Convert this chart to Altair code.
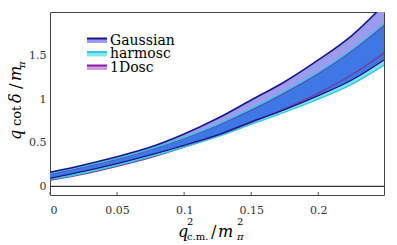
import altair as alt
import pandas as pd

# ---- data ----
x_vals = [0, 0.025, 0.05, 0.075, 0.1, 0.125, 0.15, 0.175, 0.2, 0.225, 0.25]
gauss_lo = [0.09, 0.17, 0.26, 0.36, 0.47, 0.59, 0.74, 0.88, 1.04, 1.22, 1.46]
gauss_hi = [0.16, 0.245, 0.34, 0.45, 0.60, 0.78, 0.99, 1.20, 1.45, 1.73, 2.10]
harm_lo = [0.08, 0.15, 0.24, 0.34, 0.45, 0.57, 0.71, 0.85, 1.00, 1.17, 1.40]
harm_hi = [0.15, 0.23, 0.32, 0.43, 0.56, 0.71, 0.89, 1.09, 1.31, 1.57, 1.88]
osc_lo = [0.07, 0.14, 0.23, 0.33, 0.45, 0.58, 0.73, 0.89, 1.07, 1.28, 1.54]
osc_hi = [0.14, 0.22, 0.31, 0.42, 0.55, 0.70, 0.87, 1.07, 1.29, 1.55, 1.85]

series_names = ["Gaussian", "harmosc", "1Dosc"]
x_ticks = [0, 0.05, 0.1, 0.15, 0.2]
y_ticks = [0, 0.5, 1, 1.5]

df = pd.DataFrame({
    "x": x_vals,
    "gauss_lo": gauss_lo, "gauss_hi": gauss_hi,
    "harm_lo": harm_lo, "harm_hi": harm_hi,
    "osc_lo": osc_lo, "osc_hi": osc_hi,
})
df["ov_lo"] = df[["gauss_lo", "harm_lo"]].max(axis=1)
df["ov_hi"] = df[["gauss_hi", "harm_hi"]].min(axis=1)

tick_df = pd.DataFrame({"x": x_ticks})
one = pd.DataFrame({"k": [0]})

FONT = "DejaVu Serif"
W, H = 334, 183

xscale = alt.Scale(domain=[0, 0.249], nice=False, zero=False)
yscale = alt.Scale(domain=[-0.1, 2.0], nice=False, zero=False)
xaxis = alt.Axis(values=x_ticks, format="~g", title=None, ticks=False, domain=False,
                 grid=False, labelPadding=9, labelFont=FONT, labelFontSize=11,
                 labelColor="#333")
yaxis = alt.Axis(values=y_ticks, format="~g", title=None, ticks=False, domain=False,
                 grid=False, labelPadding=4, labelFont=FONT, labelFontSize=11,
                 labelColor="#333")


def X(field="x"):
    return alt.X(f"{field}:Q", scale=xscale, axis=xaxis)


def Y(field):
    return alt.Y(f"{field}:Q", scale=yscale, axis=yaxis)


base = alt.Chart(df)

def band(lo, hi, color):
    return base.mark_area(clip=True, color=color, interpolate="monotone").encode(
        x=X(), y=Y(lo), y2=alt.Y2(f"{hi}:Q"))

def line(field, color, w=1.4):
    return base.mark_line(clip=True, color=color, strokeWidth=w, interpolate="monotone").encode(
        x=X(), y=Y(field))

NAVY = "#16168a"
CYAN = "#33c9dc"
PURP = "#7a3a9e"

layers = [
    band("osc_lo", "osc_hi", "#c488e8"),
    band("harm_lo", "harm_hi", "#7fe2ef"),
    band("gauss_lo", "gauss_hi", "#9c9cef"),
    band("ov_lo", "ov_hi", "#3d78e4"),
    line("osc_lo", PURP), line("osc_hi", PURP, 1.0),
    line("harm_lo", CYAN), line("harm_hi", CYAN),
    line("gauss_lo", NAVY, 1.3), line("gauss_hi", NAVY, 1.6),
]

zero_rule = alt.Chart(one).mark_rule(color="black", strokeWidth=1).encode(
    y=alt.datum(0, scale=yscale, axis=yaxis))
layers.append(zero_rule)

ticks = alt.Chart(tick_df).mark_rule(color="#555", strokeWidth=1).encode(
    x=X(), y=alt.value(H), y2=alt.value(H - 3))
layers.append(ticks)

# legend (manual, inside plot)
leg_fill = ["#9c9cef", "#86e6f0", "#cf9cf0"]
leg_line = [NAVY, CYAN, "#8a1a9a"]
rows = [28, 41.5, 55]
for name, fc, lc, r in zip(series_names, leg_fill, leg_line, rows):
    layers.append(alt.Chart(one).mark_rect(color=fc).encode(
        x=alt.value(37), x2=alt.value(57), y=alt.value(r - 2), y2=alt.value(r + 3)))
    layers.append(alt.Chart(one).mark_rule(color=lc, strokeWidth=2).encode(
        x=alt.value(37), x2=alt.value(57), y=alt.value(r - 1.5)))
    layers.append(alt.Chart(one).mark_text(font=FONT, fontSize=14, align="left",
                                           baseline="middle", color="black").encode(
        x=alt.value(60), y=alt.value(r + 0.5), text=alt.value(name)))

def txt(s, x, y, size, italic=False, angle=0):
    kw = dict(font=FONT, fontSize=size, align="left", baseline="alphabetic", color="black")
    if italic:
        kw["fontStyle"] = "italic"
    if angle:
        kw["angle"] = angle
    return alt.Chart(one).mark_text(**kw).encode(
        x=alt.value(x), y=alt.value(y), text=alt.value(s))

# x title: q^2_{c.m.} / m^2_pi
layers += [
    txt("q", 128, 225, 16, True),
    txt("2", 137, 213, 10),
    txt("c.m.", 137, 228, 10),
    txt("/", 161, 225, 16),
    txt("m", 168, 225, 16, True),
    txt("2", 187, 213, 10),
    txt("π", 187, 228, 10, True),
]
# y title: q cot δ / m_pi (rotated)
layers += [
    txt("q", -29, 128, 16, True, 270),
    txt("cot", -29, 114, 13, False, 270),
    txt("δ", -29, 91, 16, True, 270),
    txt("/", -29, 77, 16, False, 270),
    txt("m", -29, 69, 16, True, 270),
    txt("π", -25, 56, 10, True, 270),
]

chart = alt.layer(*layers).properties(
    width=W, height=H,
    autosize=alt.AutoSizeParams(type="none"),
    padding={"left": 42, "top": 4, "right": 5, "bottom": 50},
).configure_view(stroke="#444", strokeWidth=1)

chart.save("out.html", embed_options={"renderer": "svg", "actions": False})
